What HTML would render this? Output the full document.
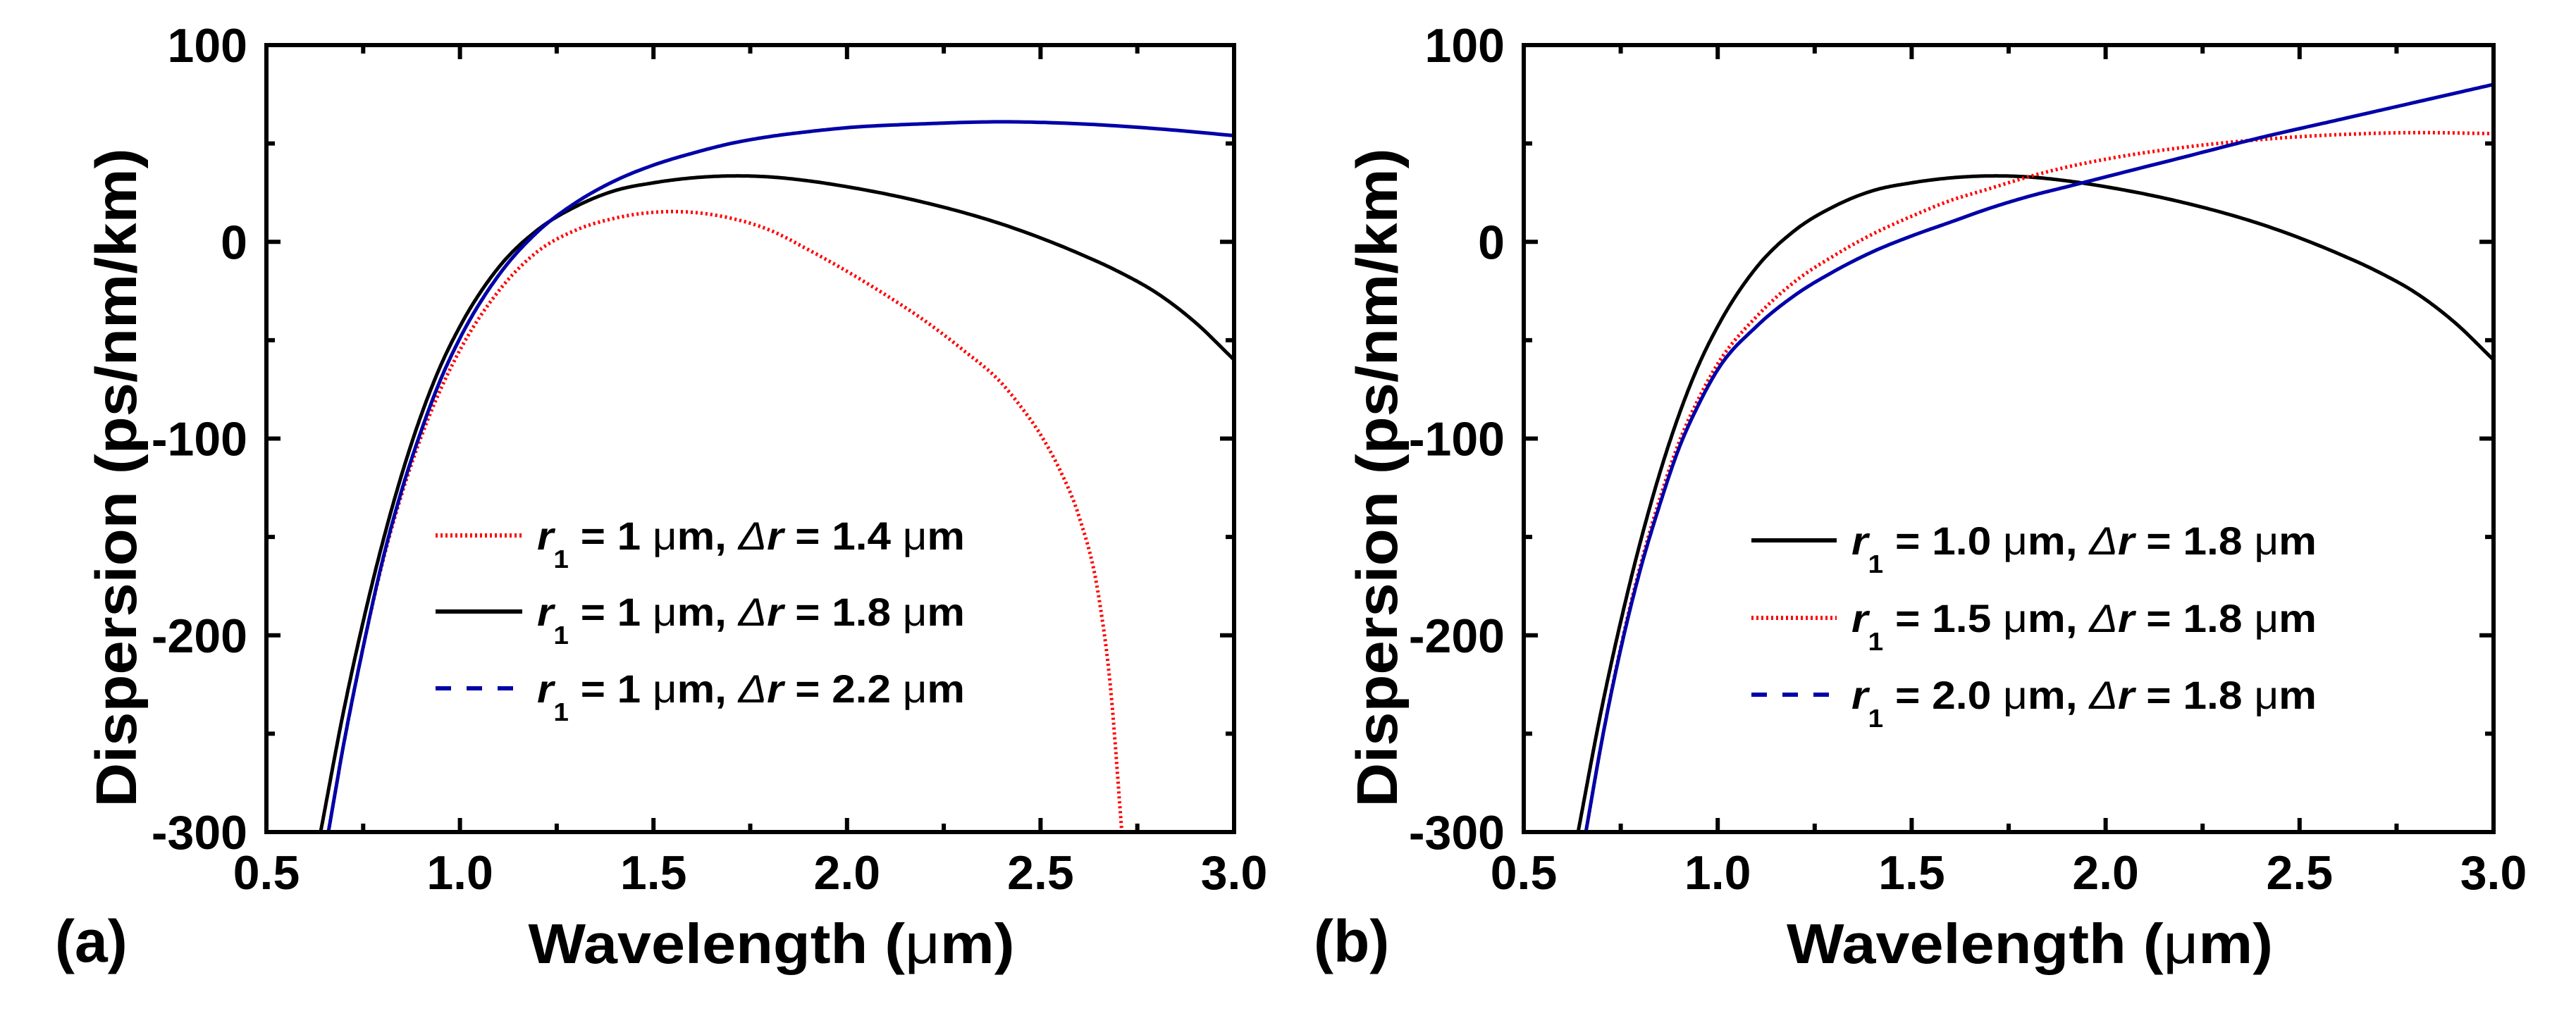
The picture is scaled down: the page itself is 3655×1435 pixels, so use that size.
<!DOCTYPE html>
<html><head><meta charset="utf-8"><style>
html,body{margin:0;padding:0;background:#fff;}
svg{display:block;font-family:"Liberation Sans",Arial,sans-serif;font-weight:bold;}
</style></head><body>
<svg id="fig" width="3655" height="1435" viewBox="0 0 3655 1435" xmlns="http://www.w3.org/2000/svg">
<rect width="3655" height="1435" fill="#fff"/>
</svg>
<script>
// ---- data ----
const xTicks = [0.5, 1.0, 1.5, 2.0, 2.5, 3.0];
const xTickLabels = ["0.5", "1.0", "1.5", "2.0", "2.5", "3.0"];
const yTicks = [-300, -200, -100, 0, 100];
const yTickLabels = ["-300", "-200", "-100", "0", "100"];

const aBlackX = [0.64,0.7,0.75,0.8,0.85,0.9,0.95,1.0,1.1,1.2,1.3,1.4,1.5,1.6,1.7,1.8,1.9,2.0,2.2,2.4,2.6,2.7,2.8,2.9,3.0];
const aBlackY = [-300,-238,-193,-153,-118,-88,-63,-43,-13,6,18,26,30,32.5,33.5,33,31,28,20,9,-6,-15,-26,-41,-60];
const aBlueX = [0.66,0.7,0.75,0.8,0.85,0.9,0.95,1.0,1.1,1.2,1.3,1.4,1.5,1.6,1.7,1.8,1.9,2.0,2.2,2.4,2.6,2.8,3.0];
const aBlueY = [-300,-255,-206,-162,-126,-96,-70,-49,-17,5,20,31,39,45,50,53.5,56,58,60,61,60,57.5,54];
const aRedX = [0.66,0.7,0.75,0.8,0.85,0.9,0.95,1.0,1.1,1.2,1.3,1.4,1.5,1.6,1.7,1.8,1.9,2.0,2.1,2.2,2.3,2.4,2.45,2.5,2.55,2.6,2.65,2.68,2.71];
const aRedY = [-300,-255,-206,-163,-128,-99,-75,-55,-25,-5,6,12,15,15,12,6,-4,-15,-27,-40,-55,-72,-84,-98,-116,-140,-180,-225,-300];

const bBlackX = aBlackX;
const bBlackY = aBlackY;
const bRedX = [0.66,0.7,0.75,0.8,0.85,0.9,0.95,1.0,1.1,1.2,1.3,1.4,1.5,1.6,1.7,1.8,1.9,2.0,2.2,2.4,2.6,2.8,3.0];
const bRedY = [-300,-255,-206,-165,-131,-102,-80,-62,-38,-20,-7,4,13,21,27,33,38,42,48,52,54.5,55.5,55];
const bBlueX = [0.66,0.7,0.75,0.8,0.85,0.9,0.95,1.0,1.1,1.2,1.3,1.4,1.5,1.6,1.7,1.8,1.9,2.0,2.2,2.4,2.6,2.8,3.0];
const bBlueY = [-300,-255,-207,-167,-134,-105,-83,-65,-43,-27,-15,-5,3,10,17,23,28,33,43,53,62,71,80];

const NS = "http://www.w3.org/2000/svg";
const svg = document.getElementById("fig");
function mk(tag, attrs, parent){const e=document.createElementNS(NS,tag);for(const k in attrs)e.setAttribute(k,attrs[k]);(parent||svg).appendChild(e);return e;}

function densify(xs, ys){
  const n=xs.length, m=[];
  for(let i=0;i<n;i++){
    if(i===0) m.push((ys[1]-ys[0])/(xs[1]-xs[0]));
    else if(i===n-1) m.push((ys[n-1]-ys[n-2])/(xs[n-1]-xs[n-2]));
    else {
      const d0=(ys[i]-ys[i-1])/(xs[i]-xs[i-1]), d1=(ys[i+1]-ys[i])/(xs[i+1]-xs[i]);
      const h0=xs[i]-xs[i-1], h1=xs[i+1]-xs[i];
      m.push((d0*h1+d1*h0)/(h0+h1));
    }
  }
  const out=[];
  for(let i=0;i<n-1;i++){
    const h=xs[i+1]-xs[i];
    for(let k=0;k<20;k++){
      const t=k/20,t2=t*t,t3=t2*t;
      const y=(2*t3-3*t2+1)*ys[i]+(t3-2*t2+t)*h*m[i]+(-2*t3+3*t2)*ys[i+1]+(t3-t2)*h*m[i+1];
      out.push([xs[i]+t*h,y]);
    }
  }
  out.push([xs[n-1],ys[n-1]]);
  return out;
}

const styles = {
  black:{stroke:"#000", dash:null, w:5},
  red:{stroke:"#ff0000", dash:"3 4", w:5},
  blue:{stroke:"#0000a8", dash:null, w:5}
};

function panel(p){
  const L=p.left,R=p.right,T=64,B=1181;
  const sx=v=>L+(v-0.5)/(2.5)*(R-L);
  const sy=v=>B-(v+300)/400*(B-T);
  const g=mk("g",{});
  
  
  const clipId="clip-"+p.name;
  const cp=mk("clipPath",{id:clipId},g);
  mk("rect",{x:L,y:T,width:R-L,height:B-T},cp);
  p.series.forEach(s=>{
    const pts=densify(s.x,s.y).map(q=>sx(q[0]).toFixed(1)+","+sy(q[1]).toFixed(1));
    const st=styles[s.color];
    const path=mk("polyline",{points:pts.join(" "),fill:"none",stroke:st.stroke,"stroke-width":st.w,"stroke-linejoin":"round","clip-path":"url(#"+clipId+")"},g);
    if(st.dash) path.setAttribute("stroke-dasharray",st.dash);
    
    
  });
  const fr=mk("rect",{x:L,y:T,width:R-L,height:B-T,fill:"none",stroke:"#000","stroke-width":6},g);
  
  
  for(let v=0.5;v<=3.0001;v+=0.25){
    const major=Math.abs(v*2-Math.round(v*2))<1e-6;
    const len=major?20:12;
    const x=sx(v);
    mk("line",{x1:x,y1:B,x2:x,y2:B-len,stroke:"#000","stroke-width":6},g);
    mk("line",{x1:x,y1:T,x2:x,y2:T+len,stroke:"#000","stroke-width":6},g);
  }
  for(let v=-300;v<=100;v+=50){
    const major=v%100===0;
    const len=major?20:12;
    const y=sy(v);
    mk("line",{x1:L,y1:y,x2:L+len,y2:y,stroke:"#000","stroke-width":6},g);
    mk("line",{x1:R,y1:y,x2:R-len,y2:y,stroke:"#000","stroke-width":6},g);
  }
  xTicks.forEach((v,i)=>{
    const t=mk("text",{x:sx(v),y:1262,"font-size":68,"text-anchor":"middle"},g);
    t.textContent=xTickLabels[i];
    
    
  });
  yTicks.forEach((v,i)=>{
    const t=mk("text",{x:L-27,y:sy(v)+24,"font-size":68,"text-anchor":"end"},g);
    t.textContent=yTickLabels[i];
    
    
  });
  const xt=mk("text",{x:(L+R)/2+30,y:1367,"font-size":80,"text-anchor":"middle",textLength:690,lengthAdjust:"spacingAndGlyphs"},g);
  xt.innerHTML='Wavelength (<tspan font-weight="normal">μ</tspan>m)';
  
  
  const yt=mk("text",{x:0,y:0,"font-size":82,"text-anchor":"middle",transform:"translate("+(p.ytx)+",678) rotate(-90)",textLength:935,lengthAdjust:"spacingAndGlyphs"},g);
  yt.textContent="Dispersion (ps/nm/km)";
  
  
  const pl=mk("text",{x:p.labelX,y:1365,"font-size":84},g);
  pl.textContent="("+p.name+")";
  
  
  p.legend.forEach((e,i)=>{
    const by=p.legY[i];
    const st=styles[e.color];
    const lg=mk("g",{},g);
    
    
    const ln=mk("line",{x1:p.legLine[0],y1:by-20,x2:p.legLine[1],y2:by-20,stroke:st.stroke,"stroke-width":6},lg);
    if(e.color==="red") ln.setAttribute("stroke-dasharray","3 4");
    if(e.dashed) ln.setAttribute("stroke-dasharray","22 22");
    const t=mk("text",{x:p.legText[0],y:by,"font-size":56,textLength:p.legText[1]-p.legText[0],lengthAdjust:"spacingAndGlyphs"},lg);
    t.innerHTML='<tspan font-style="italic">r</tspan><tspan font-size="36" dy="26">1</tspan><tspan dy="-26"> = '+e.r1+' </tspan><tspan font-weight="normal">μ</tspan>m, <tspan font-style="italic" font-weight="normal">Δ</tspan><tspan font-style="italic">r</tspan> = '+e.dr+' <tspan font-weight="normal">μ</tspan>m';
  });
}

panel({name:"a",left:378,right:1751,ytx:193,labelX:78,
  series:[
    {name:"series-dr-1.4",color:"red",x:aRedX,y:aRedY},
    {name:"series-dr-1.8",color:"black",x:aBlackX,y:aBlackY},
    {name:"series-dr-2.2",color:"blue",x:aBlueX,y:aBlueY}],
  legend:[{color:"red",r1:"1",dr:"1.4"},{color:"black",r1:"1",dr:"1.8"},{color:"blue",r1:"1",dr:"2.2",dashed:true}],
  legY:[780,888,997],legLine:[618,741],legText:[762,1369]});
panel({name:"b",left:2162,right:3538,ytx:1982,labelX:1864,
  series:[
    {name:"series-r1-1.0",color:"black",x:bBlackX,y:bBlackY},
    {name:"series-r1-1.5",color:"red",x:bRedX,y:bRedY},
    {name:"series-r1-2.0",color:"blue",x:bBlueX,y:bBlueY}],
  legend:[{color:"black",r1:"1.0",dr:"1.8"},{color:"red",r1:"1.5",dr:"1.8"},{color:"blue",r1:"2.0",dr:"1.8",dashed:true}],
  legY:[787,897,1006],legLine:[2485,2606],legText:[2627,3287]});
</script>
</body></html>
